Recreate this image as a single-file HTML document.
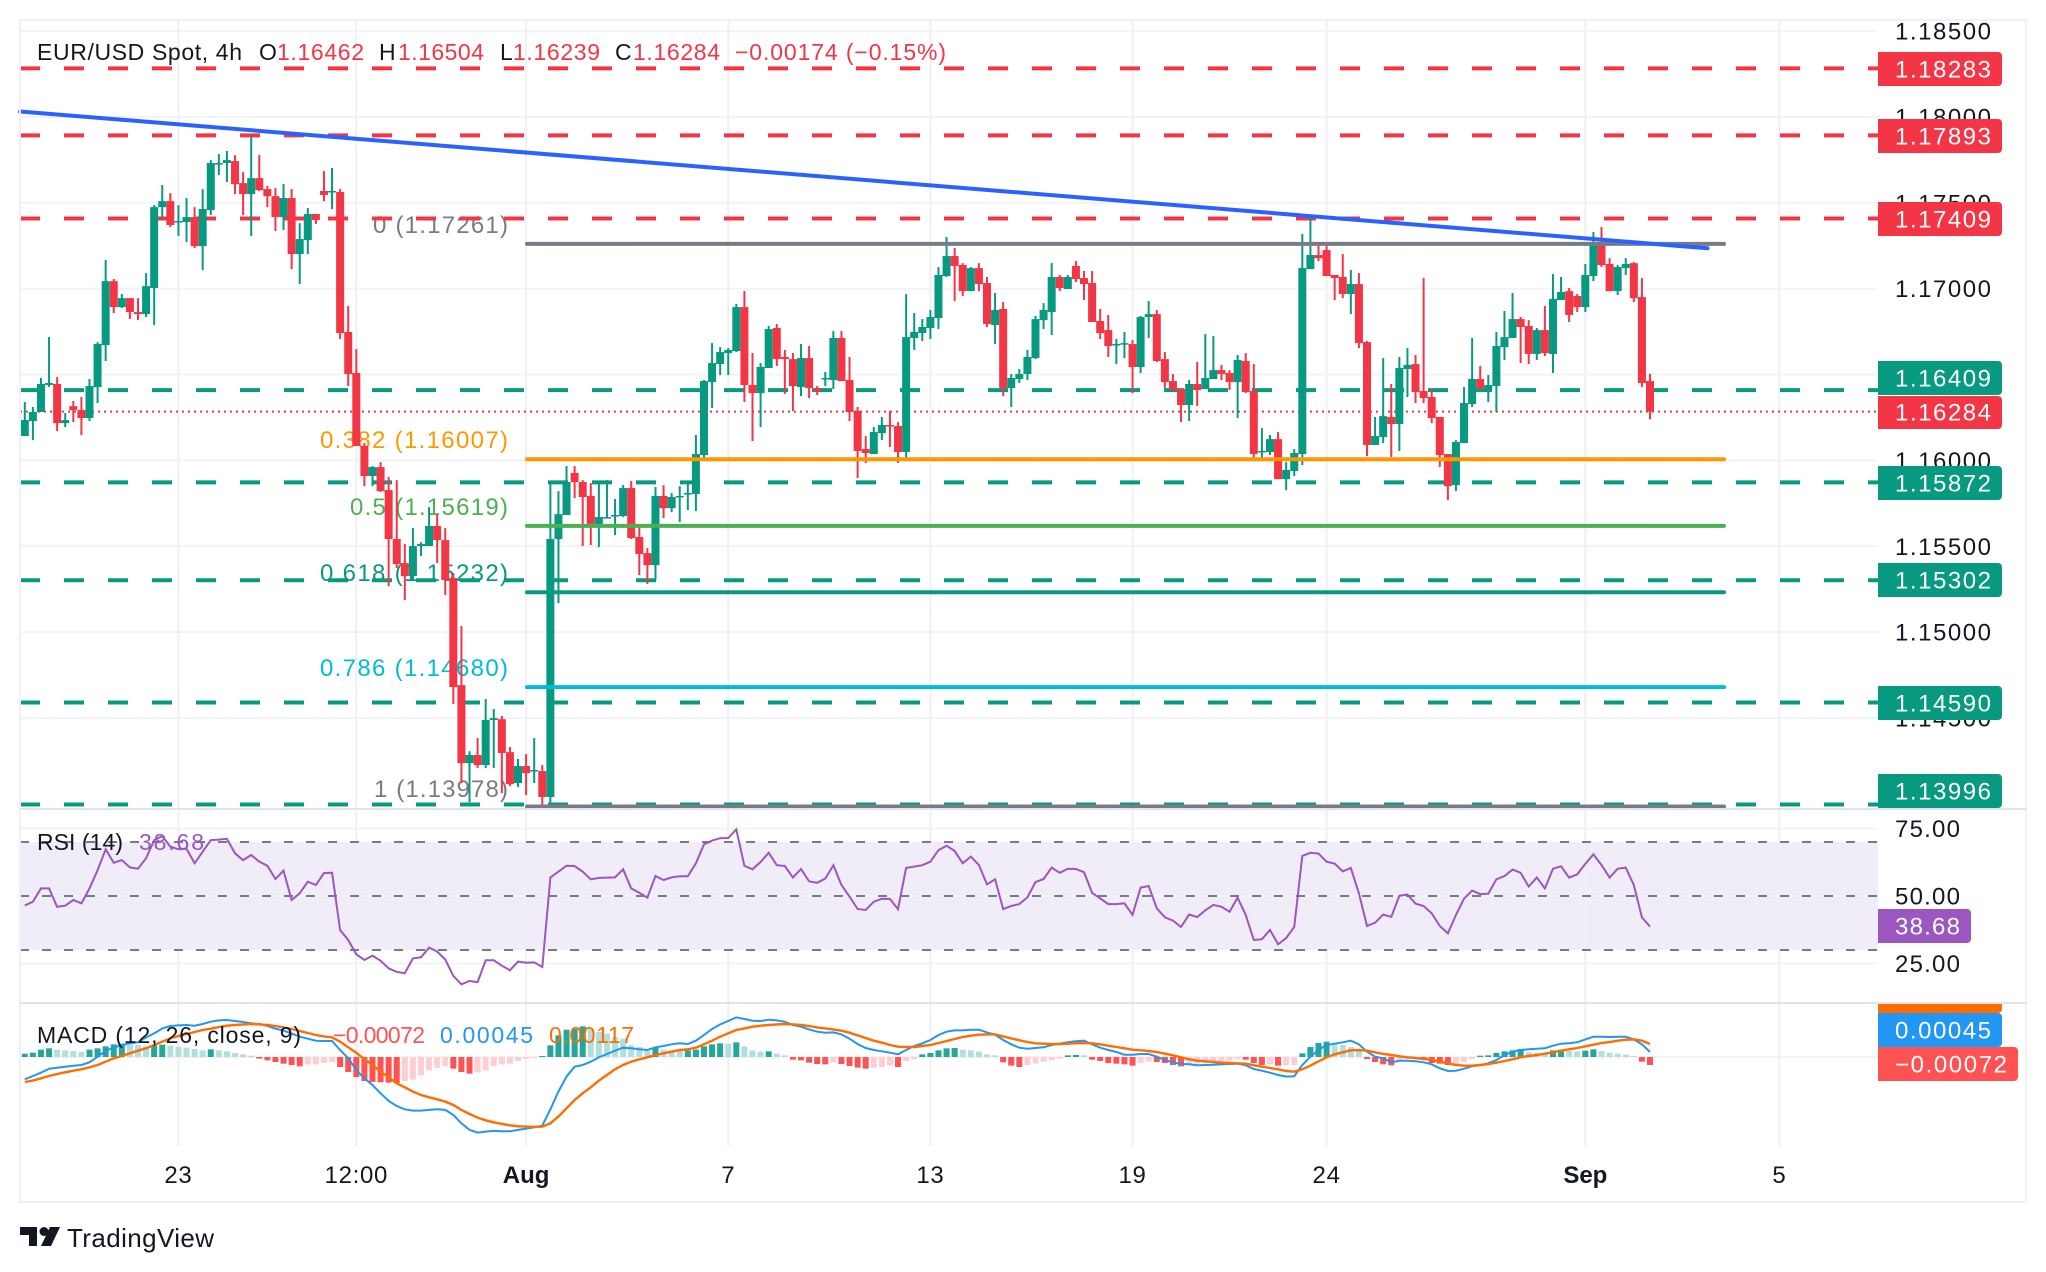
<!DOCTYPE html>
<html lang="en">
<head>
<meta charset="utf-8">
<title>EUR/USD Spot 4h chart</title>
<style>
html,body{margin:0;padding:0;background:#fff;width:2046px;height:1272px;overflow:hidden}
svg{display:block}
text{font-family:"Liberation Sans",sans-serif}
</style>
</head>
<body>
<svg id="chart" xmlns="http://www.w3.org/2000/svg" width="2046" height="1272" viewBox="0 0 2046 1272">
  <rect x="0" y="0" width="2046" height="1272" fill="#ffffff"/>
  <rect x="20" y="842" width="1858" height="108" fill="#f0ecf8"/>
  <g id="grid"></g>
  <g id="fibText"></g>
  <g id="levels"></g>
  <g id="candles"></g>
  <g id="fibLines"></g>
  <line x1="20" y1="111.5" x2="1707.5" y2="248.3" stroke="#2962ff" stroke-width="4" stroke-linecap="round"/>
  <g id="rsiPane"></g>
  <g id="macdPane"></g>
  <rect x="20" y="20" width="2006" height="1182" fill="none" stroke="#f0f0f5" stroke-width="2"/>
  <line x1="20" y1="809" x2="2026" y2="809" stroke="#e0e3eb" stroke-width="2"/>
  <line x1="20" y1="1003" x2="2026" y2="1003" stroke="#e0e3eb" stroke-width="2"/>
  <g id="axisText"></g>

  <g font-size="24" fill="#ffffff">
    <path d="M1878 52h120a4 4 0 0 1 4 4v26a4 4 0 0 1-4 4h-120z" fill="#f23645"/>
    <text x="1895" y="77.5" textLength="96">1.18283</text>
    <path d="M1878 119h120a4 4 0 0 1 4 4v26a4 4 0 0 1-4 4h-120z" fill="#f23645"/>
    <text x="1895" y="144.5" textLength="96">1.17893</text>
    <path d="M1878 202h120a4 4 0 0 1 4 4v26a4 4 0 0 1-4 4h-120z" fill="#f23645"/>
    <text x="1895" y="227.5" textLength="96">1.17409</text>
    <path d="M1878 361h120a4 4 0 0 1 4 4v26a4 4 0 0 1-4 4h-120z" fill="#089981"/>
    <text x="1895" y="386.5" textLength="96">1.16409</text>
    <path d="M1878 396h120a4 4 0 0 1 4 4v25a4 4 0 0 1-4 4h-120z" fill="#f23645"/>
    <text x="1895" y="420.5" textLength="96">1.16284</text>
    <path d="M1878 466h120a4 4 0 0 1 4 4v26a4 4 0 0 1-4 4h-120z" fill="#089981"/>
    <text x="1895" y="491.5" textLength="96">1.15872</text>
    <path d="M1878 563h120a4 4 0 0 1 4 4v26a4 4 0 0 1-4 4h-120z" fill="#089981"/>
    <text x="1895" y="588.5" textLength="96">1.15302</text>
    <path d="M1878 686h120a4 4 0 0 1 4 4v26a4 4 0 0 1-4 4h-120z" fill="#089981"/>
    <text x="1895" y="711.5" textLength="96">1.14590</text>
    <path d="M1878 774h120a4 4 0 0 1 4 4v26a4 4 0 0 1-4 4h-120z" fill="#089981"/>
    <text x="1895" y="799.5" textLength="96">1.13996</text>
    <path d="M1878 909h89a4 4 0 0 1 4 4v26a4 4 0 0 1-4 4h-89z" fill="#9c56bf"/>
    <text x="1895" y="934.5" textLength="65">38.68</text>
    <path d="M1878 1004h124v5a4 4 0 0 1-4 4h-120z" fill="#ff6d00"/>
    <path d="M1878 1013h120a4 4 0 0 1 4 4v26a4 4 0 0 1-4 4h-120z" fill="#2196f3"/>
    <text x="1895" y="1038.5" textLength="96">0.00045</text>
    <path d="M1878 1047h136a4 4 0 0 1 4 4v26a4 4 0 0 1-4 4h-136z" fill="#ff5252"/>
    <text x="1895" y="1072.5" textLength="112">−0.00072</text>
  </g>

  <g font-size="23">
    <text x="37" y="60" fill="#131722" textLength="205">EUR/USD Spot, 4h</text>
    <text x="259" y="60" fill="#131722">O</text>
    <text x="277" y="60" fill="#f23645" textLength="87">1.16462</text>
    <text x="379" y="60" fill="#131722">H</text>
    <text x="398" y="60" fill="#f23645" textLength="86">1.16504</text>
    <text x="500" y="60" fill="#131722">L</text>
    <text x="513" y="60" fill="#f23645" textLength="87">1.16239</text>
    <text x="615" y="60" fill="#131722">C</text>
    <text x="633" y="60" fill="#f23645" textLength="87">1.16284</text>
    <text x="735" y="60" fill="#f23645" textLength="211">−0.00174 (−0.15%)</text>
  </g>
  <g font-size="23">
    <text x="37" y="850" fill="#131722" textLength="86">RSI (14)</text>
    <text x="139" y="850" fill="#9c56bf" textLength="65">38.68</text>
  </g>
  <g font-size="23">
    <text x="37" y="1043" fill="#131722" textLength="264">MACD (12, 26, close, 9)</text>
    <text x="333" y="1043" fill="#ff5252" textLength="92">−0.00072</text>
    <text x="440" y="1043" fill="#2196f3" textLength="93">0.00045</text>
    <text x="549" y="1043" fill="#ff6d00" textLength="85">0.00117</text>
  </g>
  <g>
    <path d="M20 1227h17v19h-8v-11h-9z" fill="#131722"/>
    <circle cx="44" cy="1231.5" r="4.5" fill="#131722"/>
    <path d="M50 1227h10l-9 19h-10z" fill="#131722"/>
    <text x="67" y="1247" font-size="26" fill="#131722" textLength="147">TradingView</text>
  </g>
</svg>
<script>
const opens=[1.16142,1.16229,1.16282,1.16439,1.16445,1.16217,1.16316,1.16293,1.16247,1.16427,
1.16672,1.17044,1.16893,1.16945,1.16864,1.16852,1.17004,1.17475,1.17510,1.17388,
1.17388,1.17417,1.17248,1.17458,1.17726,1.17732,1.17743,1.17615,1.17551,1.17644,
1.17580,1.17539,1.17417,1.17528,1.17202,1.17283,1.17435,1.17569,1.17563,1.17563,
1.16748,1.16509,1.16084,1.15909,1.15961,1.15827,1.15542,1.15402,1.15326,1.15501,
1.15501,1.15618,1.15536,1.15315,1.14691,1.14237,1.14284,1.14226,1.14488,1.14493,
1.14301,1.14121,1.14220,1.14191,1.14191,1.14040,1.15542,1.15682,1.15927,1.15874,
1.15793,1.15630,1.15664,1.15676,1.15676,1.15839,1.15554,1.15460,1.15390,1.15793,
1.15722,1.15787,1.15804,1.15804,1.16031,1.16456,1.16561,1.16625,1.16637,1.16893,
1.16439,1.16392,1.16538,1.16771,1.16602,1.16590,1.16427,1.16596,1.16421,1.16474,
1.16468,1.16713,1.16468,1.16288,1.16066,1.16037,1.16159,1.16206,1.16200,1.16049,
1.16713,1.16742,1.16771,1.16829,1.17074,1.17190,1.17138,1.16986,1.17120,1.17033,
1.16788,1.16882,1.16421,1.16474,1.16503,1.16596,1.16817,1.16864,1.17068,1.16998,
1.17132,1.17062,1.17033,1.16812,1.16759,1.16672,1.16678,1.16678,1.16544,1.16835,
1.16852,1.16590,1.16462,1.16416,1.16322,1.16445,1.16416,1.16474,1.16526,1.16509,
1.16456,1.16579,1.16404,1.16049,1.16049,1.16124,1.15891,1.15938,1.16037,1.17114,
1.17196,1.17225,1.17080,1.17068,1.16969,1.17027,1.16689,1.16090,1.16136,1.16253,
1.16212,1.16532,1.16561,1.16404,1.16369,1.16253,1.16037,1.15856,1.16101,1.16328,
1.16474,1.16416,1.16433,1.16660,1.16713,1.16823,1.16783,1.16620,1.16759,1.16620,
1.16934,1.16986,1.16957,1.16893,1.17074,1.17254,1.17144,1.16986,1.17120,1.17149,
1.16951,1.16462];
const highs=[1.16340,1.16311,1.16480,1.16718,1.16485,1.16276,1.16346,1.16369,1.16474,1.16689,
1.17167,1.17056,1.16969,1.16945,1.16945,1.17091,1.17487,1.17604,1.17557,1.17487,
1.17528,1.17475,1.17580,1.17749,1.17784,1.17802,1.17778,1.17679,1.17889,1.17778,
1.17598,1.17586,1.17609,1.17580,1.17382,1.17470,1.17435,1.17685,1.17703,1.17580,
1.16899,1.16648,1.16101,1.15967,1.15990,1.15903,1.15885,1.15513,1.15606,1.15524,
1.15728,1.15687,1.15606,1.15344,1.15035,1.14307,1.14383,1.14610,1.14552,1.14511,
1.14331,1.14261,1.14290,1.14383,1.14226,1.15868,1.15821,1.15967,1.15967,1.15885,
1.15868,1.15868,1.15885,1.15775,1.15856,1.15880,1.15624,1.15489,1.15845,1.15856,
1.15810,1.15850,1.15862,1.16148,1.16468,1.16683,1.16660,1.16654,1.16911,1.16986,
1.16625,1.16567,1.16783,1.16794,1.16643,1.16625,1.16678,1.16666,1.16433,1.16515,
1.16753,1.16753,1.16602,1.16311,1.16142,1.16194,1.16253,1.16288,1.16223,1.16969,
1.16858,1.16823,1.16876,1.17126,1.17301,1.17237,1.17149,1.17126,1.17149,1.17068,
1.16975,1.16922,1.16503,1.16532,1.16643,1.16841,1.16916,1.17149,1.17080,1.17080,
1.17161,1.17103,1.17103,1.16882,1.16847,1.16707,1.16748,1.16701,1.16841,1.16928,
1.16876,1.16631,1.16503,1.16421,1.16468,1.16573,1.16736,1.16724,1.16556,1.16526,
1.16614,1.16625,1.16561,1.16188,1.16148,1.16165,1.15990,1.16066,1.17319,1.17423,
1.17266,1.17266,1.17080,1.17202,1.17109,1.17091,1.16695,1.16253,1.16596,1.16445,
1.16602,1.16654,1.16614,1.17062,1.16416,1.16253,1.16037,1.16118,1.16427,1.16713,
1.16550,1.16497,1.16748,1.16870,1.16975,1.16835,1.16817,1.16771,1.16899,1.17085,
1.17068,1.17004,1.16969,1.17144,1.17330,1.17359,1.17178,1.17138,1.17178,1.17155,
1.17062,1.16504];
const lows=[1.16142,1.16118,1.16282,1.16427,1.16171,1.16194,1.16223,1.16148,1.16229,1.16334,
1.16579,1.16858,1.16887,1.16823,1.16817,1.16835,1.16788,1.17411,1.17359,1.17307,
1.17272,1.17237,1.17109,1.17429,1.17662,1.17621,1.17551,1.17429,1.17307,1.17569,
1.17475,1.17336,1.17342,1.17114,1.17027,1.17202,1.17377,1.17510,1.17464,1.16707,
1.16433,1.16084,1.15850,1.15850,1.15816,1.15268,1.15373,1.15187,1.15297,1.15443,
1.15501,1.15402,1.15216,1.14581,1.14121,1.14010,1.14208,1.14208,1.14208,1.14063,
1.14103,1.14098,1.14051,1.14121,1.13981,1.13981,1.15169,1.15682,1.15781,1.15501,
1.15507,1.15495,1.15664,1.15565,1.15670,1.15542,1.15332,1.15280,1.15303,1.15664,
1.15699,1.15641,1.15711,1.15705,1.16002,1.16305,1.16497,1.16497,1.16631,1.16340,
1.16113,1.16194,1.16538,1.16550,1.16387,1.16288,1.16375,1.16363,1.16381,1.16433,
1.16416,1.16462,1.16229,1.15897,1.15985,1.16037,1.16118,1.16078,1.15985,1.16014,
1.16643,1.16695,1.16707,1.16765,1.17068,1.16928,1.16957,1.16986,1.16986,1.16777,
1.16678,1.16375,1.16311,1.16451,1.16468,1.16590,1.16765,1.16730,1.16986,1.16998,
1.17039,1.16934,1.16806,1.16707,1.16602,1.16561,1.16596,1.16392,1.16509,1.16713,
1.16573,1.16421,1.16410,1.16223,1.16229,1.16316,1.16416,1.16474,1.16468,1.16410,
1.16247,1.16392,1.16008,1.16014,1.16031,1.15891,1.15827,1.15909,1.15973,1.17114,
1.17161,1.17074,1.16934,1.16945,1.16852,1.16654,1.16026,1.16090,1.16101,1.16020,
1.16055,1.16369,1.16334,1.16334,1.16217,1.15961,1.15769,1.15821,1.16101,1.16311,
1.16410,1.16340,1.16282,1.16585,1.16713,1.16567,1.16561,1.16585,1.16608,1.16509,
1.16934,1.16806,1.16864,1.16864,1.17044,1.17126,1.16986,1.16963,1.17080,1.16922,
1.16427,1.16239];
const closes=[1.16235,1.16282,1.16445,1.16451,1.16217,1.16235,1.16293,1.16247,1.16433,1.16678,
1.17044,1.16893,1.16945,1.16864,1.16852,1.17015,1.17475,1.17510,1.17371,1.17394,
1.17417,1.17248,1.17464,1.17732,1.17732,1.17749,1.17609,1.17551,1.17644,1.17574,
1.17539,1.17417,1.17528,1.17202,1.17289,1.17435,1.17400,1.17546,1.17569,1.16742,
1.16503,1.16084,1.15909,1.15961,1.15821,1.15542,1.15396,1.15326,1.15501,1.15513,
1.15618,1.15536,1.15303,1.14680,1.14237,1.14284,1.14226,1.14488,1.14499,1.14296,
1.14115,1.14220,1.14179,1.14197,1.14040,1.15542,1.15687,1.15874,1.15874,1.15787,
1.15630,1.15670,1.15670,1.15682,1.15839,1.15548,1.15455,1.15390,1.15793,1.15722,
1.15787,1.15793,1.15810,1.16037,1.16462,1.16567,1.16631,1.16643,1.16893,1.16439,
1.16392,1.16544,1.16765,1.16590,1.16590,1.16433,1.16596,1.16421,1.16404,1.16480,
1.16713,1.16462,1.16282,1.16055,1.16043,1.16165,1.16206,1.16200,1.16049,1.16718,
1.16748,1.16777,1.16835,1.17080,1.17190,1.17132,1.16986,1.17120,1.17027,1.16794,
1.16876,1.16421,1.16480,1.16503,1.16602,1.16823,1.16876,1.17068,1.17004,1.17068,
1.17056,1.17027,1.16806,1.16742,1.16666,1.16678,1.16683,1.16544,1.16835,1.16852,
1.16579,1.16456,1.16410,1.16322,1.16445,1.16410,1.16480,1.16526,1.16503,1.16456,
1.16585,1.16398,1.16037,1.16055,1.16124,1.15891,1.15944,1.16043,1.17120,1.17196,
1.17178,1.17074,1.17062,1.16969,1.17027,1.16683,1.16090,1.16142,1.16258,1.16212,
1.16538,1.16556,1.16398,1.16363,1.16247,1.16031,1.15850,1.16107,1.16334,1.16474,
1.16421,1.16439,1.16666,1.16718,1.16823,1.16777,1.16620,1.16759,1.16625,1.16940,
1.16981,1.16847,1.16893,1.17080,1.17254,1.17138,1.16986,1.17126,1.17144,1.16945,
1.16451,1.16284];
const rsiValues=[46.5,47.9,52.8,52.8,46.0,46.4,48.5,47.3,52.8,59.6,
67.3,62.3,63.3,60.6,60.1,64.0,70.7,72.2,68.3,67.3,
67.5,62.1,66.4,70.7,70.9,71.2,65.8,63.3,65.2,62.7,
61.2,56.3,59.4,48.5,51.0,55.3,54.1,58.5,58.6,37.4,
33.7,28.4,26.3,27.9,26.0,23.2,21.9,21.4,26.9,27.3,
30.9,29.4,26.5,20.4,17.3,18.5,18.1,26.2,26.2,24.2,
22.5,25.7,25.3,25.4,23.7,56.9,59.0,61.2,61.1,59.0,
56.2,56.7,56.8,56.9,59.9,52.8,51.2,49.4,57.4,55.9,
56.9,57.3,57.3,62.1,69.1,70.5,71.4,71.5,74.7,61.2,
59.9,62.6,66.0,61.4,61.1,56.8,60.0,55.4,54.9,56.5,
61.4,54.1,49.8,45.2,44.8,47.9,49.0,48.9,45.1,60.4,
60.9,61.4,62.7,67.0,68.6,66.7,62.1,64.6,61.5,54.3,
56.2,45.1,46.3,47.0,49.5,55.2,56.3,60.5,58.6,60.1,
60.0,58.8,51.2,49.1,47.0,47.0,47.3,43.0,53.1,53.7,
45.4,42.1,40.9,38.5,43.2,42.2,44.7,46.7,46.0,44.2,
49.4,43.0,33.7,34.0,37.4,32.1,34.4,38.5,64.8,66.0,
65.7,62.7,62.0,59.1,60.4,51.0,38.9,40.1,43.1,42.3,
50.1,50.5,47.2,46.3,43.6,38.9,36.2,43.0,49.0,52.0,
50.7,50.9,56.2,57.4,59.8,58.6,53.5,56.9,52.8,60.1,
61.0,56.8,58.0,61.9,65.4,61.5,56.8,60.1,60.5,54.1,
42.1,38.68];
const macdLine=[-0.00201,-0.00171,-0.00141,-0.00105,-0.00096,-0.00087,-0.00078,-0.00072,-0.00048,0.00003,
0.00057,0.00084,0.00108,0.00123,0.00132,0.00177,0.00213,0.00258,0.00279,0.00285,
0.00288,0.00282,0.00297,0.00318,0.00330,0.00333,0.00324,0.00315,0.00303,0.00297,
0.00279,0.00255,0.00237,0.00213,0.00183,0.00165,0.00147,0.00144,0.00144,0.00063,
-0.00012,-0.00117,-0.00192,-0.00252,-0.00327,-0.00396,-0.00441,-0.00471,-0.00483,-0.00483,
-0.00477,-0.00471,-0.00477,-0.00522,-0.00597,-0.00657,-0.00681,-0.00672,-0.00666,-0.00669,
-0.00669,-0.00657,-0.00645,-0.00633,-0.00618,-0.00471,-0.00312,-0.00177,-0.00087,-0.00072,
-0.00042,-0.00003,0.00027,0.00057,0.00084,0.00078,0.00069,0.00063,0.00087,0.00099,
0.00114,0.00123,0.00117,0.00147,0.00198,0.00252,0.00294,0.00324,0.00357,0.00342,
0.00327,0.00324,0.00336,0.00330,0.00318,0.00288,0.00273,0.00249,0.00228,0.00219,
0.00222,0.00204,0.00165,0.00117,0.00081,0.00063,0.00051,0.00039,0.00024,0.00063,
0.00099,0.00123,0.00153,0.00198,0.00228,0.00240,0.00240,0.00246,0.00246,0.00222,
0.00201,0.00153,0.00114,0.00084,0.00075,0.00081,0.00087,0.00108,0.00120,0.00132,
0.00141,0.00147,0.00114,0.00084,0.00063,0.00045,0.00021,0.00021,0.00027,0.00027,
0.00003,-0.00027,-0.00048,-0.00063,-0.00066,-0.00075,-0.00072,-0.00069,-0.00066,-0.00063,
-0.00060,-0.00075,-0.00108,-0.00123,-0.00141,-0.00162,-0.00177,-0.00174,-0.00072,0.00003,
0.00063,0.00108,0.00120,0.00132,0.00147,0.00114,0.00048,0.00003,-0.00012,-0.00048,
-0.00033,-0.00033,-0.00039,-0.00048,-0.00066,-0.00102,-0.00126,-0.00123,-0.00105,-0.00084,
-0.00072,-0.00057,-0.00027,0.00018,0.00048,0.00063,0.00069,0.00075,0.00078,0.00102,
0.00120,0.00123,0.00132,0.00159,0.00183,0.00183,0.00180,0.00183,0.00183,0.00159,
0.00114,0.00045];
const signalLine=[-0.00225,-0.00213,-0.00192,-0.00171,-0.00153,-0.00138,-0.00123,-0.00111,-0.00093,-0.00072,
-0.00042,-0.00012,0.00009,0.00033,0.00057,0.00078,0.00108,0.00138,0.00168,0.00189,
0.00207,0.00225,0.00243,0.00255,0.00270,0.00282,0.00288,0.00294,0.00297,0.00294,
0.00288,0.00279,0.00267,0.00252,0.00234,0.00216,0.00198,0.00186,0.00177,0.00138,
0.00087,0.00039,-0.00021,-0.00072,-0.00132,-0.00183,-0.00237,-0.00273,-0.00312,-0.00342,
-0.00363,-0.00381,-0.00402,-0.00432,-0.00477,-0.00513,-0.00546,-0.00570,-0.00588,-0.00603,
-0.00615,-0.00624,-0.00627,-0.00630,-0.00627,-0.00597,-0.00537,-0.00462,-0.00387,-0.00327,
-0.00273,-0.00213,-0.00162,-0.00111,-0.00072,-0.00042,-0.00021,-0.00003,0.00018,0.00033,
0.00048,0.00063,0.00069,0.00084,0.00114,0.00147,0.00183,0.00213,0.00243,0.00258,
0.00273,0.00282,0.00288,0.00294,0.00297,0.00294,0.00288,0.00279,0.00267,0.00258,
0.00249,0.00237,0.00219,0.00195,0.00171,0.00147,0.00129,0.00108,0.00093,0.00090,
0.00090,0.00099,0.00108,0.00126,0.00144,0.00162,0.00180,0.00192,0.00201,0.00204,
0.00204,0.00186,0.00168,0.00150,0.00135,0.00123,0.00120,0.00117,0.00117,0.00120,
0.00123,0.00126,0.00123,0.00114,0.00102,0.00090,0.00078,0.00066,0.00060,0.00054,
0.00045,0.00030,0.00015,-0.00003,-0.00021,-0.00033,-0.00039,-0.00045,-0.00051,-0.00054,
-0.00057,-0.00060,-0.00075,-0.00087,-0.00099,-0.00111,-0.00126,-0.00132,-0.00111,-0.00078,
-0.00039,-0.00003,0.00024,0.00042,0.00060,0.00063,0.00057,0.00042,0.00027,0.00018,
0.00006,-0.00003,-0.00009,-0.00018,-0.00024,-0.00042,-0.00057,-0.00072,-0.00078,-0.00078,
-0.00072,-0.00063,-0.00051,-0.00036,-0.00021,-0.00003,0.00009,0.00018,0.00030,0.00042,
0.00057,0.00069,0.00081,0.00096,0.00111,0.00126,0.00135,0.00147,0.00156,0.00159,
0.00147,0.00117];
const histogram=[0.00030,0.00039,0.00066,0.00078,0.00066,0.00060,0.00054,0.00045,0.00066,0.00078,
0.00096,0.00114,0.00120,0.00114,0.00108,0.00096,0.00105,0.00111,0.00102,0.00093,
0.00084,0.00072,0.00060,0.00069,0.00060,0.00051,0.00036,0.00024,0.00012,-0.00015,
-0.00030,-0.00045,-0.00060,-0.00072,-0.00084,-0.00069,-0.00066,-0.00054,-0.00045,-0.00090,
-0.00135,-0.00180,-0.00216,-0.00225,-0.00228,-0.00231,-0.00234,-0.00216,-0.00204,-0.00165,
-0.00120,-0.00099,-0.00084,-0.00105,-0.00135,-0.00150,-0.00138,-0.00120,-0.00084,-0.00066,
-0.00060,-0.00036,-0.00018,-0.00009,0.00009,0.00105,0.00195,0.00246,0.00252,0.00276,
0.00255,0.00225,0.00210,0.00180,0.00165,0.00105,0.00090,0.00054,0.00084,0.00066,
0.00060,0.00057,0.00060,0.00066,0.00096,0.00114,0.00123,0.00120,0.00132,0.00096,
0.00060,0.00048,0.00051,0.00030,0.00015,-0.00024,-0.00030,-0.00051,-0.00063,-0.00066,
-0.00048,-0.00063,-0.00081,-0.00096,-0.00105,-0.00096,-0.00090,-0.00078,-0.00090,-0.00036,
-0.00018,0.00024,0.00036,0.00060,0.00078,0.00081,0.00066,0.00060,0.00048,0.00024,
0.00015,-0.00048,-0.00078,-0.00090,-0.00072,-0.00060,-0.00042,-0.00030,-0.00015,0.00015,
0.00018,0.00015,-0.00024,-0.00036,-0.00054,-0.00060,-0.00066,-0.00078,-0.00054,-0.00042,
-0.00045,-0.00054,-0.00072,-0.00084,-0.00066,-0.00060,-0.00057,-0.00048,-0.00042,-0.00030,
-0.00021,-0.00024,-0.00054,-0.00072,-0.00066,-0.00078,-0.00075,-0.00072,0.00033,0.00090,
0.00126,0.00138,0.00114,0.00108,0.00090,0.00054,-0.00018,-0.00045,-0.00066,-0.00075,
-0.00024,-0.00018,-0.00015,-0.00015,-0.00054,-0.00060,-0.00072,-0.00060,-0.00045,-0.00018,
0.00012,0.00015,0.00036,0.00051,0.00060,0.00072,0.00042,0.00039,0.00036,0.00060,
0.00066,0.00054,0.00051,0.00057,0.00069,0.00054,0.00039,0.00030,0.00021,0.00009,
-0.00042,-0.00072];
const priceTicks=[1.185,1.18,1.175,1.17,1.165,1.16,1.155,1.15,1.145];
const rsiTicks=[75,50,25];
const rsiBandLevels=[70,50,30];
const resistanceLevels=[1.18283,1.17893,1.17409];
const supportLevels=[1.16409,1.15872,1.15302,1.14590,1.13996];
const lastPrice=[1.16284];
const fibRatios=['0','0.382','0.5','0.618','0.786','1'];
const fibPrices=[1.17261,1.16007,1.15619,1.15232,1.14680,1.13978];
const fibColors=['#787b86','#ff9800','#4caf50','#089981','#00bcd4','#787b86'];
const timeLabels=['23','12:00','Aug','7','13','19','24','Sep','5'];
const timeBars=[19,41,62,87,112,137,161,193,217];

const NS='http://www.w3.org/2000/svg';
const xBar=i=>24.8+8.0856*i;
const yPrice=p=>288.7+(1.17-p)*17171;
const yRsi=v=>896-(v-50)*2.7;
const yMacd=v=>1057-v*11100;
const C_UP='#089981',C_DN='#f23645';
function mk(parent,tag,attrs){
  const el=document.createElementNS(NS,tag);
  for(const k in attrs){el.setAttribute(k,attrs[k]);}
  parent.appendChild(el);
  return el;
}
const $=id=>document.getElementById(id);

/* grid */
priceTicks.forEach(t=>{
  const el=mk($('grid'),'line',{x1:20,x2:1878,y1:yPrice(t),y2:yPrice(t),stroke:'#f3f3f5','stroke-width':2});
  
  
});
rsiTicks.forEach(t=>{
  const el=mk($('grid'),'line',{x1:20,x2:1878,y1:yRsi(t),y2:yRsi(t),stroke:'#f3f3f5','stroke-width':2});
  
  
});
{
  const el=mk($('grid'),'line',{x1:20,x2:1878,y1:yMacd(0),y2:yMacd(0),stroke:'#f3f3f5','stroke-width':2});
  
  
}
timeBars.forEach(b=>{
  const el=mk($('grid'),'line',{x1:xBar(b),x2:xBar(b),y1:20,y2:1146,stroke:'#f0f0f3','stroke-width':2});
  
  
});

/* fib labels */
fibRatios.forEach((r,i)=>{
  const y=[233,448,515,581,676,797][i];
  const w=[135,188,158,188,188,134][i];
  const el=mk($('fibText'),'text',{x:508-w,y:y,'font-size':24,fill:fibColors[i],textLength:w});
  el.textContent=r+' ('+fibPrices[i].toFixed(5)+')';
  
  
});

/* dashed levels */
resistanceLevels.forEach(p=>{
  const el=mk($('levels'),'line',{x1:20,x2:1878,y1:yPrice(p),y2:yPrice(p),stroke:C_DN,'stroke-width':4,'stroke-dasharray':'20 24'});
  
  
});
supportLevels.forEach(p=>{
  const el=mk($('levels'),'line',{x1:20,x2:1878,y1:yPrice(p),y2:yPrice(p),stroke:C_UP,'stroke-width':4,'stroke-dasharray':'20 24'});
  
  
});
lastPrice.forEach(p=>{
  const el=mk($('levels'),'line',{x1:20,x2:1878,y1:yPrice(p),y2:yPrice(p),stroke:C_DN,'stroke-width':2,'stroke-dasharray':'2 4'});
  
  
});

/* candles */
closes.forEach((c,i)=>{
  const o=opens[i],col=c>=o?C_UP:C_DN,x=xBar(i);
  const w=mk($('candles'),'rect',{x:x-1,width:2,y:yPrice(highs[i]),height:Math.max(1,yPrice(lows[i])-yPrice(highs[i])),fill:col});
  
  
  const top=yPrice(Math.max(o,c)),bot=yPrice(Math.min(o,c));
  const b=mk($('candles'),'rect',{x:x-4,width:8,y:top,height:Math.max(1.5,bot-top),fill:col});
  
  
});

/* fib lines */
fibPrices.forEach((p,i)=>{
  const y=Math.min(yPrice(p),806.5);
  const el=mk($('fibLines'),'line',{x1:527,x2:1724,y1:y,y2:y,stroke:fibColors[i],'stroke-width':4,'stroke-linecap':'round'});
  
  
});

/* RSI */
rsiBandLevels.forEach(v=>{
  const el=mk($('rsiPane'),'line',{x1:20,x2:1878,y1:yRsi(v),y2:yRsi(v),stroke:'#787b86','stroke-width':2,'stroke-dasharray':'9 13'});
  
  
});
{
  const el=mk($('rsiPane'),'polyline',{points:rsiValues.map((v,i)=>xBar(i).toFixed(1)+','+yRsi(v).toFixed(1)).join(' '),fill:'none',stroke:'#9c56bf','stroke-width':2});
  
  
}

/* MACD */
histogram.forEach((v,i)=>{
  const prev=i?histogram[i-1]:0;
  let col;
  if(v>=0){col=v>=prev?'#26a69a':'#b2dfdb';}else{col=v<=prev?'#ff5252':'#ffcdd2';}
  const y0=yMacd(0),y1=yMacd(v);
  const el=mk($('macdPane'),'rect',{x:xBar(i)-3,width:6,y:Math.min(y0,y1),height:Math.max(1,Math.abs(y1-y0)),fill:col});
  
  
});
{
  const el=mk($('macdPane'),'polyline',{points:macdLine.map((v,i)=>xBar(i).toFixed(1)+','+yMacd(v).toFixed(1)).join(' '),fill:'none',stroke:'#2196f3','stroke-width':2});
  
  
}
{
  const el=mk($('macdPane'),'polyline',{points:signalLine.map((v,i)=>xBar(i).toFixed(1)+','+yMacd(v).toFixed(1)).join(' '),fill:'none',stroke:'#ff6d00','stroke-width':2.4});
  
  
}

/* axis text */
priceTicks.forEach(t=>{
  const el=mk($('axisText'),'text',{x:1895,y:yPrice(t)+8.5,'font-size':24,fill:'#131722',textLength:96});
  el.textContent=t.toFixed(5);
  
  
});
rsiTicks.forEach(t=>{
  const el=mk($('axisText'),'text',{x:1895,y:yRsi(t)+8.5,'font-size':24,fill:'#131722',textLength:65});
  el.textContent=t.toFixed(2);
  
  
});
timeLabels.forEach((t,i)=>{
  const bold=(t==='Aug'||t==='Sep');
  const el=mk($('axisText'),'text',{x:xBar(timeBars[i]),y:1183,'text-anchor':'middle','font-size':24,fill:'#131722','font-weight':bold?'700':'400','letter-spacing':bold?'0':'0.7'});
  el.textContent=t;
  
  
});
</script>
</body>
</html>
